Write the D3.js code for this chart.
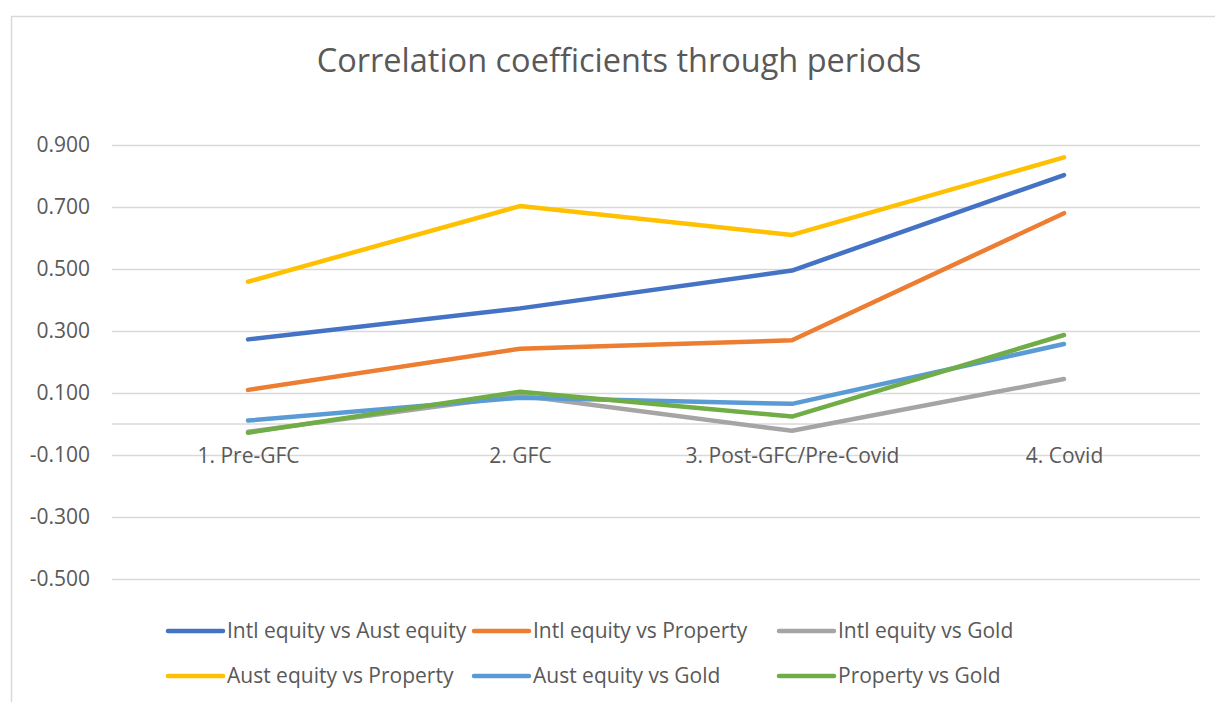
<!DOCTYPE html>
<html>
<head>
<meta charset="utf-8">
<script src="https://cdn.jsdelivr.net/npm/d3@7"></script>
<style>
  body { margin: 0; background: #fff; }
  svg { font-family: "Open Sans", "Noto Sans", sans-serif; }
</style>
</head>
<body>
<svg id="chart" width="1215" height="702"></svg>
<script>
// categories and series
const periods = ['1. Pre-GFC', '2. GFC', '3. Post-GFC/Pre-Covid', '4. Covid'];
const seriesNames = [
    'Intl equity vs Aust equity',
    'Intl equity vs Property',
    'Intl equity vs Gold',
    'Aust equity vs Property',
    'Aust equity vs Gold',
    'Property vs Gold'
];
const intlAust = [0.273, 0.373, 0.495, 0.803];
const intlProperty = [0.110, 0.243, 0.270, 0.680];
const intlGold = [-0.025, 0.092, -0.022, 0.145];
const austProperty = [0.459, 0.703, 0.610, 0.860];
const austGold = [0.011, 0.085, 0.065, 0.258];
const propertyGold = [-0.028, 0.104, 0.024, 0.287];
const yTicks = [0.9, 0.7, 0.5, 0.3, 0.1, -0.1, -0.3, -0.5];

const allSeries = [intlAust, intlProperty, intlGold, austProperty, austGold, propertyGold];
const colors = ['#4472C4', '#ED7D31', '#A5A5A5', '#FFC000', '#5B9BD5', '#70AD47'];

const svg = d3.select('#chart');

// chart border (Excel chart area)
svg.append('rect')
    .attr('x', 11.5).attr('y', 16.5)
    .attr('width', 1240).attr('height', 720)
    .attr('fill', 'none')
    .attr('stroke', '#d9d9d9')
    .attr('stroke-width', 1.5);

svg.append('text')
    .attr('x', 619).attr('y', 72)
    .attr('text-anchor', 'middle')
    .attr('fill', '#595959')
    .attr('font-size', 32.5)
    .text('Correlation coefficients through periods');

const x = d3.scalePoint()
    .domain(periods)
    .range([112, 1200])
    .padding(0.5);

const y = d3.scaleLinear()
    .domain([-0.5, 0.9])
    .range([579, 145]);

const locale = d3.formatLocale({ decimal: '.', thousands: ',', grouping: [3], currency: ['', ''], minus: '-' });
const fmt = locale.format('.3f');

// y axis: gridlines + labels
const yAxis = d3.axisLeft(y)
    .tickValues(yTicks)
    .tickSize(-1088)
    .tickPadding(22)
    .tickFormat(fmt);

const gy = svg.append('g')
    .attr('transform', 'translate(112,0)')
    .call(yAxis);
gy.select('.domain').remove();
gy.selectAll('.tick line').attr('stroke', '#d9d9d9').attr('stroke-width', 1.3);
gy.selectAll('.tick text')
    .attr('fill', '#595959')
    .attr('font-size', 21)
    .attr('font-family', '"Open Sans", sans-serif');

// category axis at zero
const xAxis = d3.axisBottom(x)
    .tickSize(0)
    .tickPadding(24);
const gx = svg.append('g')
    .attr('transform', 'translate(0,' + y(0) + ')')
    .call(xAxis);
gx.select('.domain').attr('d', 'M112,0H1200').attr('stroke', '#d9d9d9').attr('stroke-width', 1.3);
gx.selectAll('.tick text')
    .attr('fill', '#595959')
    .attr('font-size', 21)
    .attr('font-family', '"Open Sans", sans-serif');

// lines
const line = d3.line()
    .x(function (d, i) { return x(periods[i]); })
    .y(function (d) { return y(d); });

svg.append('g')
    .selectAll('path')
    .data(allSeries)
    .enter()
    .append('path')
    .attr('d', line)
    .attr('fill', 'none')
    .attr('stroke', function (d, i) { return colors[i]; })
    .attr('stroke-width', 4.5)
    .attr('stroke-linecap', 'round')
    .attr('stroke-linejoin', 'round');

// legend
const legendCols = [168, 474, 779];
const legendRows = [631, 676];
const legend = svg.append('g')
    .selectAll('g')
    .data(seriesNames)
    .enter()
    .append('g')
    .attr('transform', function (d, i) {
        return 'translate(' + legendCols[i % 3] + ',' + legendRows[Math.floor(i / 3)] + ')';
    });

legend.append('line')
    .attr('x1', 0).attr('x2', 55)
    .attr('stroke', function (d, i) { return colors[i]; })
    .attr('stroke-width', 4.5)
    .attr('stroke-linecap', 'round');

legend.append('text')
    .attr('x', 59)
    .attr('dy', '0.35em')
    .attr('fill', '#595959')
    .attr('font-size', 21)
    .text(function (d) { return d; });
</script>
</body>
</html>
